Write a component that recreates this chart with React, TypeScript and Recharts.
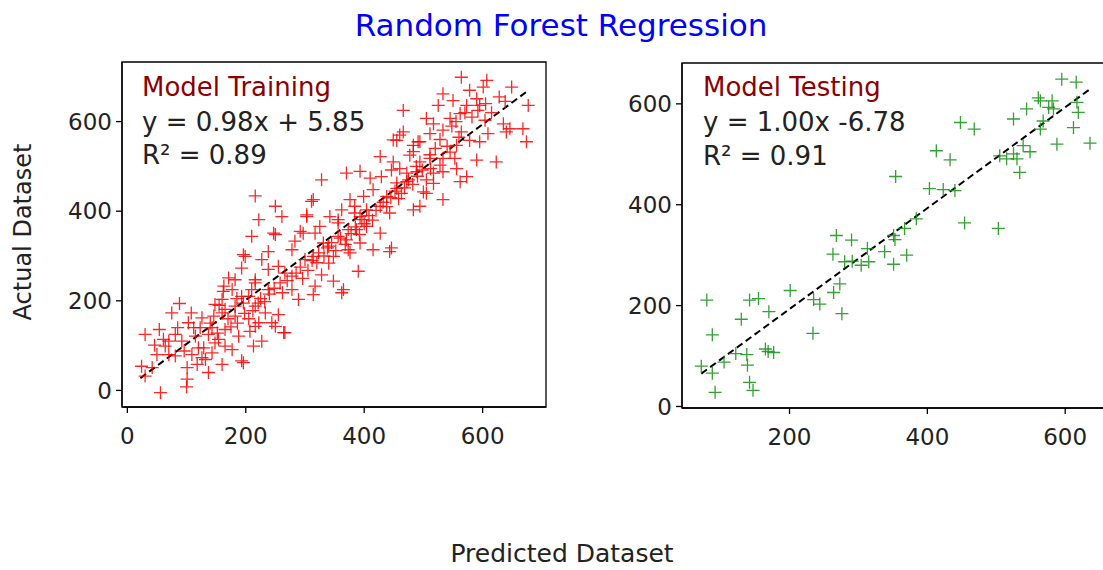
import React from 'react';
import { ScatterChart, Scatter, XAxis, YAxis, ReferenceLine, ReferenceArea } from 'recharts';

const FONT = '"DejaVu Sans", Verdana, sans-serif';

const trainPairs: [number, number][] = [
  [56, -5], [100, 8], [24, 54], [30, 125], [54, 136], [61, 114], [88, 194], [75, 173], [108, 173], [103, 151],
  [81, 125], [92, 110], [70, 80], [109, 80], [101, 51], [129, 95], [132, 69], [143, 84], [154, 114], [177, 91],
  [193, 66], [160, 58], [137, 125], [123, 140], [146, 166], [126, 162], [165, 181], [182, 166], [193, 210], [162, 221],
  [182, 247], [216, 247], [221, 195], [233, 173], [216, 143], [227, 110], [244, 151], [207, 132], [213, 99], [148, 192],
  [115, 121], [50, 80], [42, 51], [30, 32], [81, 77], [64, 99], [143, 140], [165, 136], [188, 121], [126, 73],
  [101, 25], [137, 40], [196, 195], [238, 225], [165, 99], [148, 106],
  [250, 411], [261, 388], [250, 348], [303, 392], [311, 422], [384, 411], [390, 266], [362, 218], [314, 214], [196, 303],
  [171, 251], [227, 292], [238, 310], [278, 314], [278, 255], [323, 307], [340, 322], [356, 344], [373, 359], [396, 381],
  [317, 351], [292, 355], [283, 333], [255, 277], [266, 262], [238, 270], [216, 240], [205, 210], [182, 188], [160, 203],
  [160, 173], [222, 151], [255, 169], [266, 129], [216, 188], [340, 284], [300, 292], [373, 314], [356, 381], [222, 381],
  [210, 344], [193, 273], [177, 225], [163, 233], [278, 225], [328, 258], [317, 233], [393, 329], [348, 244], [289, 203],
  [328, 470], [314, 426], [370, 485], [393, 489], [449, 559], [460, 570], [491, 555], [483, 533], [511, 526], [533, 518],
  [517, 485], [533, 426], [505, 440], [488, 500], [472, 485], [455, 463], [438, 433], [463, 440], [446, 492], [427, 522],
  [429, 477], [410, 474], [415, 448], [399, 433], [376, 426], [384, 396], [404, 403], [427, 411], [443, 396], [483, 403],
  [494, 411], [427, 351], [446, 318], [362, 403], [356, 374], [342, 388], [325, 366], [303, 388], [297, 351], [331, 329],
  [370, 336], [387, 359], [404, 366], [376, 307], [348, 299], [314, 299], [415, 314], [393, 388],
  [564, 699], [607, 692], [601, 677], [649, 677], [677, 636], [533, 662], [525, 636], [466, 625], [550, 647], [578, 670],
  [590, 651], [573, 636], [595, 636], [562, 618], [545, 607], [505, 607], [517, 595], [511, 573], [533, 581], [466, 577],
  [455, 558], [494, 555], [483, 547], [635, 595], [646, 584], [668, 584], [674, 555], [640, 577], [604, 603], [609, 573],
  [595, 555], [578, 558], [564, 577], [556, 547], [545, 532], [590, 514], [623, 510], [553, 518], [528, 503], [511, 518],
  [494, 510], [477, 525], [460, 495], [489, 488], [533, 488], [556, 495], [562, 466], [517, 462], [500, 443], [472, 466],
  [455, 451], [573, 477], [449, 510],
  [216, 434], [443, 310], [199, 299], [247, 351], [365, 225], [264, 129], [196, 62], [250, 143],
  [140, 150], [152, 128], [170, 160], [175, 142], [186, 150], [198, 172], [205, 160], [212, 178], [225, 205], [232, 198],
  [240, 215], [248, 228], [258, 240], [262, 218], [270, 245], [285, 262], [292, 275], [296, 250], [305, 268], [312, 290],
  [320, 285], [332, 300], [338, 318], [345, 330], [352, 312], [360, 340], [368, 326], [378, 350], [385, 365], [392, 348],
  [400, 372], [408, 390], [414, 380], [420, 402], [432, 420], [438, 410], [445, 430], [452, 445], [458, 428], [468, 452],
  [475, 470], [482, 460], [490, 478], [498, 492], [505, 470], [512, 495], [520, 540], [528, 560], [540, 545], [548, 590],
  [555, 600], [560, 565], [570, 620], [582, 610], [592, 625], [605, 640], [615, 620], [628, 655], [638, 645], [120, 95],
  [112, 140], [96, 88], [85, 140], [70, 110], [46, 101], [118, 58], [155, 190], [185, 205], [210, 225],
];

const testPairs: [number, number][] = [
  [80, 211], [88, 142], [72, 80], [88, 66], [92, 28], [105, 88], [122, 105], [130, 173], [138, 103], [139, 82],
  [142, 48], [147, 32], [142, 211], [155, 214], [170, 188], [165, 114], [169, 109], [177, 107], [201, 230], [234, 145],
  [235, 212], [244, 203], [263, 302], [268, 339], [264, 226], [273, 243], [276, 184], [280, 287], [290, 330], [291, 288],
  [304, 280], [313, 313], [315, 287], [338, 307], [351, 339], [351, 282], [353, 331], [370, 300], [367, 353], [384, 372],
  [454, 364], [503, 353], [354, 456], [403, 432], [423, 430], [440, 428], [413, 507], [433, 489], [448, 563], [468, 550],
  [595, 649], [616, 643], [561, 612], [564, 606], [544, 590], [581, 606], [583, 590], [576, 593], [525, 570], [568, 566],
  [564, 550], [617, 603], [619, 583], [612, 553], [588, 520], [636, 522], [539, 517], [525, 501], [549, 505], [515, 491],
  [530, 491], [534, 464], [505, 497],
];

const trainFit = { slope: 0.98, intercept: 5.85, from: 22, to: 676 };
const testFit = { slope: 1.0, intercept: -6.78, from: 72, to: 638 };

const trainXDomain = [-9, 707];
const trainYDomain = [-37, 733];
const testXDomain = [44, 665];
const testYDomain = [-3, 681];

const trainXTicks = [0, 200, 400, 600];
const trainYTicks = [0, 200, 400, 600];
const testXTicks = [200, 400, 600];
const testYTicks = [0, 200, 400, 600];

const Plus = ({ cx, cy, color }: { cx: number; cy: number; color: string }) => (
  <path
    d={`M${cx - 6.5},${cy}h13M${cx},${cy - 6.5}v13`}
    stroke={color}
    strokeWidth={1.3}
    strokeOpacity={0.85}
    fill="none"
  />
);

const tickStyle = { fill: '#222', fontSize: 23, fontFamily: FONT };

interface PanelProps {
  data: { x: number; y: number }[];
  color: string;
  fit: { slope: number; intercept: number; from: number; to: number };
  xDomain: number[];
  yDomain: number[];
  xTicks: number[];
  yTicks: number[];
  left: number;
  width: number;
  margin: { top: number; right: number; bottom: number; left: number };
}

const Panel: React.FC<PanelProps> = ({ data, color, fit, xDomain, yDomain, xTicks, yTicks, left, width, margin }) => (
  <div style={{ position: 'absolute', left, top: 0, width, height: 470 }}>
    <ScatterChart width={width} height={470} margin={margin}>
      <XAxis
        type="number"
        dataKey="x"
        domain={xDomain}
        ticks={xTicks}
        allowDataOverflow
        height={50}
        tick={tickStyle}
        tickSize={6}
        tickMargin={15}
        stroke="#000"
        axisLine={{ stroke: '#000', strokeWidth: 1.3 }}
        tickLine={{ stroke: '#000', strokeWidth: 1.3 }}
      />
      <YAxis
        type="number"
        dataKey="y"
        domain={yDomain}
        ticks={yTicks}
        allowDataOverflow
        width={54}
        tick={tickStyle}
        tickSize={6}
        tickMargin={4}
        stroke="#000"
        axisLine={{ stroke: '#000', strokeWidth: 1.3 }}
        tickLine={{ stroke: '#000', strokeWidth: 1.3 }}
      />
      <ReferenceArea
        x1={xDomain[0]}
        x2={xDomain[1]}
        y1={yDomain[0]}
        y2={yDomain[1]}
        fill="none"
        stroke="#000"
        strokeWidth={1.3}
        ifOverflow="visible"
      />
      <Scatter
        data={data}
        isAnimationActive={false}
        shape={(p: any) => <Plus cx={p.cx} cy={p.cy} color={color} />}
      />
      <ReferenceLine
        segment={[
          { x: fit.from, y: fit.slope * fit.from + fit.intercept },
          { x: fit.to, y: fit.slope * fit.to + fit.intercept },
        ]}
        stroke="#000"
        strokeWidth={2}
        strokeDasharray="7 4"
        ifOverflow="visible"
      />
    </ScatterChart>
  </div>
);

const App: React.FC = () => {
  const trainData = trainPairs.map(([x, y]) => ({ x, y }));
  const testData = testPairs.map(([x, y]) => ({ x, y }));

  return (
    <div
      style={{
        position: 'fixed',
        left: 0,
        top: 0,
        width: 1103,
        height: 570,
        overflow: 'hidden',
        background: '#fff',
        fontFamily: FONT,
      }}
    >
      <Panel
        data={trainData}
        color="#ff0000"
        fit={trainFit}
        xDomain={trainXDomain}
        yDomain={trainYDomain}
        xTicks={trainXTicks}
        yTicks={trainYTicks}
        left={0}
        width={560}
        margin={{ top: 62, right: 14, bottom: 13, left: 68 }}
      />
      <Panel
        data={testData}
        color="#109010"
        fit={testFit}
        xDomain={testXDomain}
        yDomain={testYDomain}
        xTicks={testXTicks}
        yTicks={testYTicks}
        left={610}
        width={520}
        margin={{ top: 63, right: 20, bottom: 12, left: 18 }}
      />
      <svg
        width={1103}
        height={570}
        style={{ position: 'absolute', left: 0, top: 0, pointerEvents: 'none' }}
        fontFamily={FONT}
      >
        <text x={561} y={36} textAnchor="middle" fontSize={31} fill="#0000ff">
          Random Forest Regression
        </text>
        <text x={562} y={562} textAnchor="middle" fontSize={25} fill="#222">
          Predicted Dataset
        </text>
        <text
          transform="translate(31,232) rotate(-90)"
          textAnchor="middle"
          fontSize={24}
          fill="#222"
        >
          Actual Dataset
        </text>

        <text x={142} y={96} fontSize={26} fill="#8b0000">Model Training</text>
        <text x={142} y={131} fontSize={26} fill="#222">y = 0.98x + 5.85</text>
        <text x={142} y={164} fontSize={26} fill="#222">R² = 0.89</text>

        <text x={703} y={96} fontSize={26} fill="#8b0000">Model Testing</text>
        <text x={703} y={131} fontSize={26} fill="#222">y = 1.00x -6.78</text>
        <text x={703} y={165} fontSize={26} fill="#222">R² = 0.91</text>
      </svg>
    </div>
  );
};

export default App;
